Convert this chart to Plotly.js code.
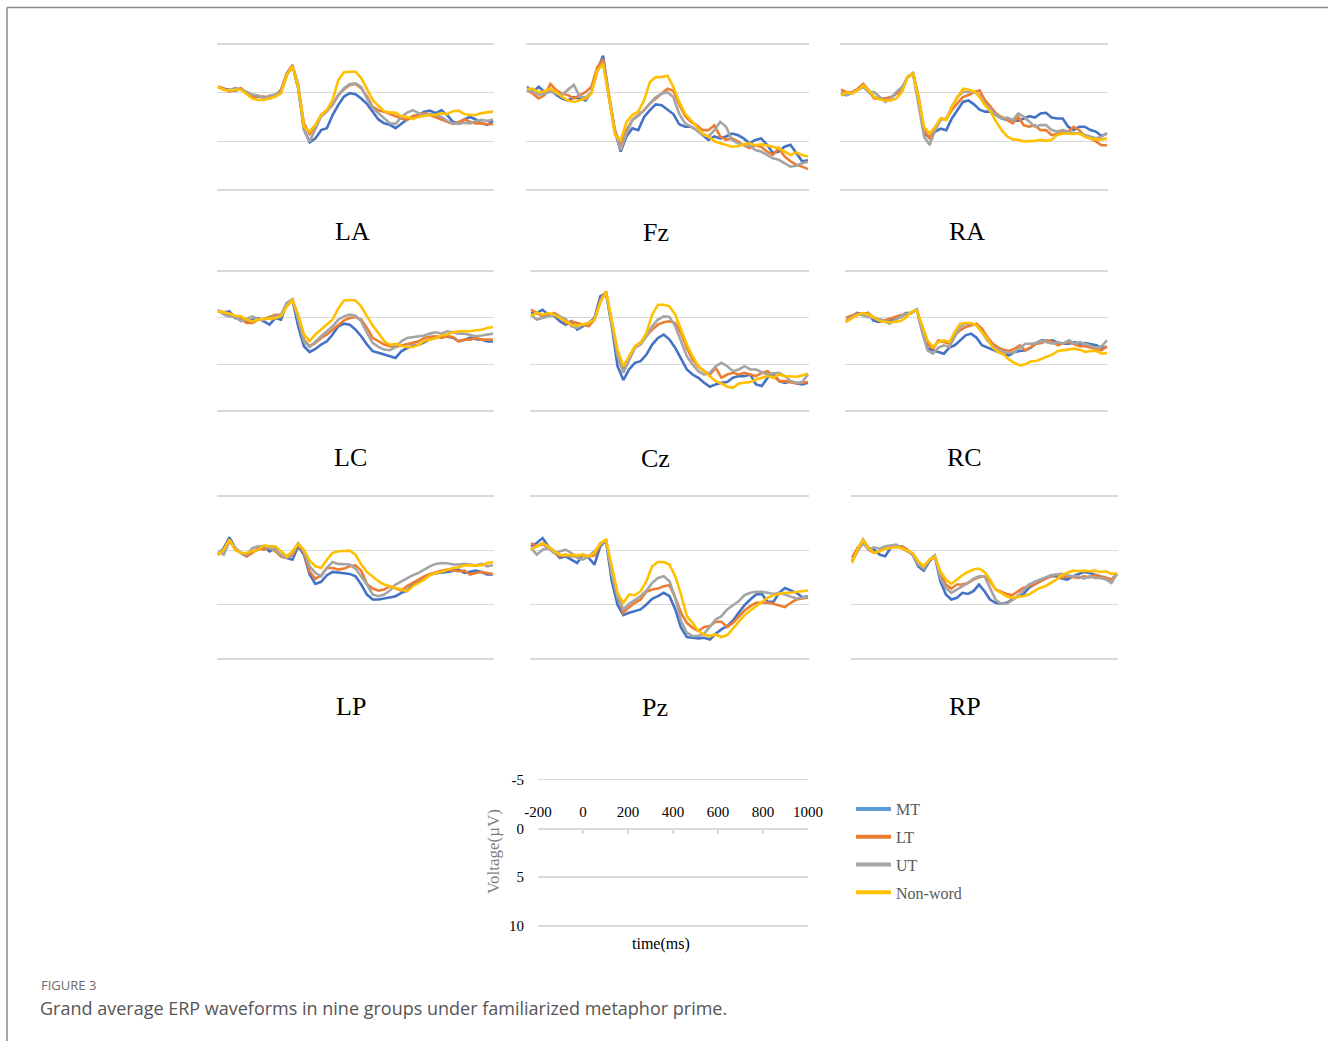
<!DOCTYPE html>
<html><head><meta charset="utf-8">
<script src="https://cdn.plot.ly/plotly-3.0.1.min.js"></script>
<style>html,body{margin:0;padding:0;background:#fff;}#chart{width:1328px;height:1041px;}</style>
</head><body><div id="chart"></div>
<script>
// ---------- DATA ----------
const time = [-200,-175,-150,-125,-100,-75,-50,-25,0,25,50,75,100,125,150,175,200,225,250,275,300,325,350,375,400,425,450,475,500,525,550,575,600,625,650,675,700,725,750,775,800,825,850,875,900,925,950,975,1000];
const seriesNames = ['MT','LT','UT','Non-word'];
const panelNames = ['LA','Fz','RA','LC','Cz','RC','LP','Pz','RP'];
const xTickVals = [-200,0,200,400,600,800,1000];
const yTickVals = [-5,0,5,10];

const LA_MT = [-0.6,-0.4,-0.3,-0.2,-0.4,0.1,0.5,0.4,0.5,0.4,0.4,-0.1,-1.8,-2.7,-0.45,3.8,5.1,4.7,3.85,3.65,2.3,1.25,0.4,0.05,0.15,0.6,1.15,1.95,2.75,3.15,3.3,3.65,3.15,2.75,2.5,2.3,1.95,1.85,2.1,1.8,2.3,3.0,3.15,2.75,2.5,2.75,3.15,3.3,2.9];
const LA_LT = [-0.6,-0.45,-0.1,-0.3,-0.45,0.1,0.4,0.4,0.4,0.6,0.25,-0.3,-2.0,-2.85,-0.6,3.15,4.25,3.5,2.3,1.8,1.25,0.25,-0.35,-0.8,-0.9,-0.45,0.4,1.45,1.8,1.95,2.2,2.45,2.65,2.8,2.4,2.3,2.1,2.3,2.5,2.75,3.0,3.2,3.0,2.75,3.0,3.15,3.15,3.25,3.25];
const LA_UT = [-0.6,-0.3,-0.2,-0.5,-0.3,-0.1,0.2,0.3,0.6,0.3,0.2,-0.1,-1.8,-2.75,-0.9,3.8,5.0,3.8,2.45,1.95,1.25,0.25,-0.45,-0.9,-0.95,-0.6,0.6,1.6,2.1,2.65,3.15,3.2,2.5,2.05,1.8,2.1,2.3,2.2,2.3,2.5,2.9,3.15,3.2,3.1,3.15,2.9,2.8,2.9,2.75];
const LA_NW = [-0.6,-0.3,-0.2,-0.3,-0.3,0.2,0.6,0.75,0.75,0.6,0.4,0.1,-1.8,-2.7,-0.6,3.5,4.0,3.3,2.3,1.8,0.75,-1.3,-2.1,-2.15,-2.15,-1.5,-0.3,0.75,1.35,1.9,2.05,2.05,2.4,2.5,2.7,2.5,2.4,2.3,2.3,2.1,2.2,1.9,1.85,2.2,2.3,2.3,2.1,2.05,1.95];

const Fz_MT = [-0.6,-0.05,-0.6,-0.05,-0.4,0.25,0.6,0.8,0.45,0.6,0.8,-0.05,-2.3,-3.8,0.45,3.85,6.05,4.5,3.65,3.85,2.5,1.8,1.2,1.3,1.75,2.2,3.25,3.5,3.5,3.85,4.35,4.85,4.5,4.7,4.5,4.2,4.35,4.7,5.2,4.85,4.7,5.35,6.2,6.05,5.55,5.35,6.2,7.05,6.95];
const Fz_LT = [-0.25,0.1,0.6,0.25,-0.9,-0.25,0.1,0.25,0.6,0.25,-0.05,-0.6,-2.6,-3.45,0.1,3.85,5.4,3.85,2.8,2.3,1.8,1.1,0.6,0.1,-0.4,-0.2,1.2,2.4,3.0,3.35,3.85,3.85,3.35,4.5,4.85,4.7,5.0,5.4,5.7,5.4,5.55,6.05,6.4,5.7,6.55,7.05,7.4,7.6,7.85];
const Fz_UT = [-0.3,-0.1,0.2,0.1,-0.1,0.1,0.2,-0.3,-0.8,0.4,0.5,0.0,-2.2,-3.1,0.3,4.0,5.9,4.2,2.8,2.4,1.8,1.1,0.45,0.1,-0.05,0.45,2.15,3.15,3.5,3.85,4.35,4.5,3.85,3.0,3.5,4.85,5.2,5.4,5.4,5.9,6.05,6.4,6.75,6.9,7.25,7.6,7.5,7.25,7.1];
const Fz_NW = [-0.4,-0.4,-0.05,-0.15,-0.4,-0.05,0.45,0.8,0.95,0.8,0.6,0.1,-2.3,-2.95,0.45,4.3,4.9,3.0,2.3,1.95,0.8,-1.1,-1.6,-1.6,-1.75,-0.6,0.95,2.15,2.8,3.5,4.2,4.5,5.0,5.2,5.4,5.55,5.5,5.3,5.2,5.4,5.3,5.4,5.55,5.7,6.05,6.4,6.15,6.4,6.55];

const RA_MT = [0.1,0.2,0.0,-0.3,-0.6,-0.1,0.5,0.6,0.6,0.5,0.1,-0.3,-1.6,-2.0,0.6,4.2,4.6,4.0,3.7,3.85,2.65,1.8,0.95,0.8,1.2,1.75,1.95,1.95,2.3,2.65,2.8,2.82,2.89,2.65,2.41,2.55,2.14,2.07,2.55,2.65,2.65,3.5,3.84,3.5,3.5,3.84,4.0,4.46,4.18];
const RA_LT = [-0.3,-0.05,-0.05,-0.4,-0.9,-0.25,0.6,0.6,0.6,0.45,0.1,-0.25,-1.6,-2.0,0.45,3.85,4.7,3.65,2.65,2.75,1.8,1.1,0.45,0.25,-0.05,-0.25,0.8,1.45,2.15,2.5,2.8,3.15,2.5,3.35,3.5,3.35,3.85,3.85,4.35,4.25,4.0,4.0,3.5,3.85,4.5,4.7,5.0,5.4,5.4];
const RA_UT = [0.1,0.27,0.03,-0.24,-0.58,-0.07,-0.07,0.44,0.95,0.61,-0.07,-0.58,-1.6,-1.94,1.12,4.52,5.37,3.84,2.82,2.65,1.46,0.44,-0.07,-0.07,-0.07,0.27,1.12,1.8,2.31,2.65,2.55,2.82,2.14,2.48,2.99,3.5,3.33,3.33,3.84,4.0,3.84,4.0,4.18,4.18,4.35,4.52,4.69,4.52,4.18];
const RA_NW = [0.3,-0.05,0.1,-0.25,-0.75,-0.25,0.45,0.7,0.8,0.8,0.6,-0.05,-1.6,-1.95,0.6,3.5,4.2,3.5,2.65,2.8,1.45,0.45,-0.4,-0.3,-0.15,0.45,1.3,1.95,3.0,3.85,4.5,4.8,4.85,5.0,5.0,4.95,4.85,4.95,4.85,4.35,4.2,4.25,4.25,4.2,4.5,4.7,4.8,4.8,4.7];

const LC_MT = [-0.68,-0.57,-0.68,0.04,0.14,0.39,0.21,0.04,0.39,0.75,0.04,0.21,-1.57,-1.92,0.93,3.06,3.7,3.35,2.88,2.53,1.81,0.93,0.64,0.75,1.28,1.99,2.88,3.59,3.77,3.95,4.13,4.31,3.6,3.25,3.0,2.9,2.65,2.3,2.15,2.0,2.05,2.15,2.55,2.4,2.15,2.3,2.35,2.55,2.55];
const LC_LT = [-0.68,-0.5,-0.32,-0.14,0.14,0.57,0.57,0.21,0.14,-0.07,-0.32,-0.32,-1.21,-1.92,0.04,2.35,3.06,2.7,2.17,1.81,1.28,0.75,0.28,0.04,-0.07,0.21,1.1,2.17,2.53,2.88,3.06,3.13,2.99,2.88,2.7,2.53,2.17,2.06,1.99,2.17,1.99,2.06,2.53,2.35,2.35,2.17,2.35,2.35,2.35];
const LC_UT = [-0.85,-0.32,-0.14,-0.07,0.39,0.14,-0.14,0.14,0.21,0.04,-0.14,-0.32,-1.57,-1.99,0.21,2.53,3.13,2.53,1.99,1.46,0.93,0.21,-0.14,-0.32,-0.21,0.39,1.64,2.7,3.13,3.42,3.49,3.13,2.53,2.17,2.06,1.99,1.92,1.71,1.57,1.71,1.46,1.57,1.71,1.71,1.81,1.99,1.92,1.81,1.71];
const LC_NW = [-0.7,-0.55,-0.45,-0.2,-0.15,0.2,0.4,0.2,0.15,0.15,0.05,-0.15,-1.2,-1.9,-0.3,1.8,2.5,1.8,1.3,0.75,0.2,-1.0,-1.85,-1.9,-1.85,-1.2,-0.15,0.85,1.65,2.5,2.9,2.8,3.0,3.15,3.15,2.9,2.5,2.35,2.2,1.9,1.8,1.55,1.45,1.45,1.45,1.35,1.3,1.1,1.0];

const Cz_MT = [-0.5,-0.5,-0.85,-0.32,-0.21,0.39,0.75,0.39,1.28,0.93,0.57,0.04,-2.28,-2.63,0.93,5.2,6.69,5.55,4.84,4.66,3.95,2.88,2.17,1.81,2.35,3.24,4.48,5.55,6.09,6.44,6.98,7.4,7.15,6.98,6.9,6.44,6.26,6.26,6.09,7.15,7.33,6.44,5.98,6.8,6.98,6.8,7.05,7.15,6.98];
const Cz_LT = [-0.85,-0.5,-0.14,-0.21,-0.5,-0.14,0.57,0.39,0.57,0.75,0.93,0.21,-1.92,-2.81,0.57,3.95,5.55,4.31,3.13,2.63,1.92,1.28,0.75,0.5,0.39,0.57,1.64,3.24,4.48,5.27,5.73,6.09,5.37,6.44,6.09,5.91,6.09,5.91,6.09,6.26,5.91,5.73,6.26,6.8,6.8,6.9,7.05,6.98,6.9];
const Cz_UT = [-0.32,0.21,0.04,-0.14,-0.32,-0.14,0.14,0.93,1.1,0.75,0.57,0.21,-1.74,-2.81,0.75,4.13,5.91,4.48,3.24,2.88,1.99,0.93,0.21,-0.14,-0.07,0.93,2.53,4.13,5.02,5.73,6.09,5.91,5.2,4.84,5.2,5.73,5.55,5.2,5.55,5.55,5.84,6.09,5.98,5.91,6.26,6.8,6.98,6.9,6.09];
const Cz_NW = [-0.14,-0.57,-0.32,-0.5,-0.32,0.04,0.39,0.75,0.85,0.75,0.57,0.21,-1.57,-2.81,0.21,3.42,5.2,4.13,3.06,2.7,1.64,-0.32,-1.39,-1.39,-1.21,-0.32,1.28,2.88,4.13,5.2,5.73,6.26,6.8,7.05,7.4,7.51,7.05,6.98,6.9,6.62,6.44,6.26,6.44,6.09,6.26,6.33,6.33,6.19,5.98];

const RC_MT = [0.46,-0.07,-0.5,-0.36,-0.5,0.29,0.46,0.29,0.36,0.21,-0.07,-0.5,-0.5,-0.86,1.18,3.32,3.5,3.68,3.86,3.21,2.96,2.43,1.89,1.71,2.14,2.96,3.21,3.43,3.68,3.93,4.04,3.68,3.57,3.5,3.21,2.71,2.43,2.5,2.43,2.71,2.79,2.79,2.61,2.79,2.71,2.86,2.96,3.21,3.14];
const RC_LT = [0.0,-0.25,-0.43,-0.36,-0.5,-0.07,0.21,0.29,0.11,-0.07,-0.25,-0.3,-0.5,-0.86,1.0,2.79,3.32,2.43,2.61,2.79,1.89,1.36,1.0,0.82,0.64,1.18,2.07,2.79,3.21,3.43,3.57,3.32,2.96,3.5,3.14,2.79,2.71,2.43,2.61,2.96,2.71,2.61,2.86,3.07,3.07,3.21,3.32,3.5,3.07];
const RC_UT = [0.29,-0.07,-0.36,-0.25,-0.07,0.0,0.21,0.29,0.64,0.29,-0.07,-0.43,-0.5,-0.86,1.54,3.5,3.86,3.21,2.96,3.14,2.07,1.0,0.64,0.64,0.82,1.54,2.43,3.07,3.43,3.68,3.79,3.68,3.21,2.79,2.79,2.71,2.5,2.61,2.79,2.61,2.79,2.43,2.79,2.61,2.79,2.96,3.21,3.07,2.43];
const RC_NW = [0.46,0.11,-0.25,-0.5,-0.36,-0.07,0.29,0.46,0.46,0.46,0.36,0.0,-0.61,-0.79,0.82,2.43,3.14,2.61,2.43,2.61,1.54,0.64,0.57,0.57,0.82,1.54,2.25,3.21,3.68,3.93,4.5,4.86,5.11,5.0,4.68,4.64,4.39,4.21,3.93,3.57,3.5,3.43,3.32,3.43,3.68,3.57,3.57,3.86,3.79];

const LP_MT = [0.4,-0.21,-1.19,-0.21,0.24,0.55,0.09,-0.06,-0.37,0.09,-0.21,0.55,0.7,0.86,-0.37,0.4,2.23,3.09,2.9,2.29,1.99,2.08,2.11,2.17,2.39,3.15,4.07,4.53,4.53,4.43,4.31,4.22,3.91,3.7,3.15,2.84,2.48,2.23,2.11,2.08,1.99,1.87,1.77,2.08,1.99,1.87,1.99,2.23,2.23];
const LP_LT = [0.4,-0.06,-0.98,-0.06,0.24,0.55,0.24,-0.21,-0.06,-0.28,0.09,0.55,0.7,0.46,-0.58,0.24,1.93,2.63,2.29,1.62,1.62,1.77,1.68,1.47,1.38,1.87,3.09,3.52,3.7,3.61,3.3,3.52,3.7,3.3,3.0,2.69,2.39,2.17,1.99,1.87,1.77,1.87,1.93,1.87,2.23,2.08,1.99,2.08,2.17];
const LP_UT = [0.09,0.4,-0.83,-0.21,0.24,0.4,-0.21,-0.37,-0.37,-0.21,-0.06,0.4,0.7,0.24,-0.67,0.09,1.47,2.08,2.39,1.62,1.07,1.25,1.31,1.31,1.68,2.39,3.15,4.07,4.22,4.07,3.7,3.15,2.84,2.6,2.29,2.08,1.77,1.47,1.25,1.16,1.19,1.31,1.31,1.25,1.31,1.38,1.25,1.47,1.38];
const LP_NW = [0.4,-0.06,-0.98,-0.06,0.24,0.24,0.09,-0.06,-0.46,-0.37,-0.37,0.09,0.55,0.09,-0.58,-0.06,0.95,1.47,1.62,0.86,0.24,0.09,0.09,0.03,0.4,1.31,1.99,2.39,2.84,3.15,3.3,3.52,3.61,3.76,3.3,3.0,2.69,2.29,2.08,1.99,1.77,1.62,1.56,1.38,1.38,1.38,1.38,1.16,1.07];

const Pz_MT = [-0.37,-0.67,-1.13,-0.37,0.09,0.7,0.55,0.86,1.16,0.4,0.7,1.31,-0.37,-0.89,2.84,5.0,5.96,5.75,5.6,5.44,4.98,4.46,4.22,3.91,4.22,5.44,7.13,7.98,8.04,8.1,8.04,8.2,7.68,7.28,6.97,6.45,5.75,5.05,4.53,4.07,4.01,4.74,4.74,3.91,3.46,3.7,3.91,4.31,4.22];
const Pz_LT = [-0.67,-0.37,-0.58,-0.21,0.09,0.55,0.4,0.55,0.55,0.46,0.55,0.46,-0.52,-0.98,1.93,4.07,5.75,5.23,4.83,4.53,3.82,3.61,3.52,3.3,3.21,4.37,5.75,6.67,7.13,7.43,7.06,6.97,6.57,6.57,7.06,6.67,6.06,5.54,5.14,4.83,4.83,4.83,4.92,5.05,5.23,4.83,4.53,4.43,4.37];
const Pz_UT = [-0.21,0.4,-0.06,-0.21,0.24,0.09,-0.06,0.24,0.7,0.86,0.55,0.09,-0.52,-0.98,2.23,4.37,5.44,4.92,4.53,4.22,3.7,3.0,2.54,2.39,2.84,4.37,6.51,7.58,7.89,7.89,7.68,6.97,6.36,6.06,5.44,5.05,4.68,4.13,3.91,3.82,3.82,3.91,4.01,3.91,4.07,4.22,4.43,4.37,4.22];
const Pz_NW = [-0.06,-0.37,-0.67,-0.37,0.09,0.4,0.46,0.4,0.46,0.4,0.55,0.24,-0.67,-0.98,1.62,3.91,4.83,4.07,4.13,3.76,2.84,1.47,1.07,1.07,1.31,2.39,4.07,6.06,6.67,7.43,7.74,7.89,7.74,7.98,7.8,7.19,6.51,5.96,5.54,5.14,4.74,4.37,4.13,4.01,3.91,3.91,3.85,3.76,3.7];

const RP_MT = [1.01,-0.06,-0.98,-0.21,-0.06,0.4,0.55,-0.21,-0.37,-0.37,-0.06,0.4,1.47,1.87,1.01,0.55,2.84,4.07,4.53,4.37,3.91,4.01,3.76,3.15,3.76,4.53,4.83,4.92,4.83,4.53,4.22,4.07,3.46,3.15,2.84,2.6,2.39,2.39,2.6,2.69,2.39,2.17,1.99,2.08,2.23,2.39,2.48,2.69,2.17];
const RP_LT = [0.7,-0.21,-0.83,-0.06,0.24,0.09,-0.21,-0.37,-0.37,-0.37,-0.06,0.4,1.16,1.47,0.95,0.55,2.08,3.15,3.52,3.15,3.15,3.0,2.69,2.48,2.39,2.84,3.61,3.82,4.01,4.13,3.76,3.46,3.3,3.15,2.84,2.6,2.39,2.23,2.54,2.39,2.48,2.54,2.39,2.48,2.29,2.39,2.54,2.69,2.17];
const RP_UT = [1.01,0.09,-0.67,-0.06,-0.28,-0.15,-0.37,-0.46,-0.52,-0.21,0.09,0.4,1.31,1.68,0.86,0.46,2.54,3.46,3.91,3.61,3.3,3.0,2.6,2.39,2.39,3.46,4.53,4.92,4.92,4.62,4.22,3.7,3.15,2.91,2.69,2.48,2.29,2.23,2.17,2.29,2.39,2.39,2.6,2.39,2.54,2.54,2.69,3.0,2.17];
const RP_NW = [1.16,-0.06,-0.98,-0.21,0.24,0.09,-0.15,-0.21,-0.28,-0.21,0.03,0.24,1.01,1.47,0.86,0.55,1.93,2.69,3.09,2.69,2.29,1.99,1.77,1.68,1.99,2.69,3.61,3.91,4.22,4.37,4.31,4.22,4.07,3.76,3.46,3.3,3.0,2.69,2.29,2.08,1.87,1.93,1.87,1.93,1.87,1.99,1.93,2.17,2.08];

// ---------- STYLE / GEOMETRY ----------
const W = 1328, H = 1041;
const lineColors = ['#4472C4','#ED7D31','#A5A5A5','#FFC000'];
const legendColors = ['#5B9BD5','#ED7D31','#A5A5A5','#FFC000'];
const gridColor = '#d9d9d9';
const serif = 'Liberation Serif, Times New Roman, serif';
const panelSeries = [
  [LA_MT,LA_LT,LA_UT,LA_NW],[Fz_MT,Fz_LT,Fz_UT,Fz_NW],[RA_MT,RA_LT,RA_UT,RA_NW],
  [LC_MT,LC_LT,LC_UT,LC_NW],[Cz_MT,Cz_LT,Cz_UT,Cz_NW],[RC_MT,RC_LT,RC_UT,RC_NW],
  [LP_MT,LP_LT,LP_UT,LP_NW],[Pz_MT,Pz_LT,Pz_UT,Pz_NW],[RP_MT,RP_LT,RP_UT,RP_NW]
];
// pixel boxes [left, right, top(-5 line), bottom(10 line)]
const panelBoxes = [
  [218,493,44,190],[527,808,44,190],[841,1107,44,190],
  [218,493,271,411],[531,808,271,411],[846,1107,271,411],
  [218,493,496,659],[531,808,496,659],[852,1117,496,659]
];
const labelPos = [[353,231],[656,232],[967,231],[350,457],[655,458],[964,457],[351,706],[655,707],[965,706]];
const refBox = [538,808,779.5,926];

const YPAD = 0.25, XPAD = 6;
function xDomain(b){const k=(b[1]-b[0])/1200;return [(b[0]-XPAD*k)/W,(b[1]+XPAD*k)/W];}
function yDomain(b){const k=(b[3]-b[2])/15;return [1-(b[3]+YPAD*k)/H,1-(b[2]-YPAD*k)/H];}

const traces = [];
const layout = {
  width: W, height: H,
  margin: {l:0,r:0,t:0,b:0},
  paper_bgcolor: '#ffffff', plot_bgcolor: 'rgba(0,0,0,0)',
  showlegend: true,
  legend: {
    x: 851/W, y: 1-792/H, xanchor:'left', yanchor:'top',
    font: {family: serif, size: 16, color:'#595959'},
    bgcolor:'rgba(0,0,0,0)', borderwidth:0, traceorder:'grouped', tracegroupgap: 4,
    itemwidth: 35
  },
  annotations: [], shapes: []
};

panelNames.forEach((name,i)=>{
  const n = i+1;
  const xa = n===1?'x':'x'+n, ya = n===1?'y':'y'+n;
  const b = panelBoxes[i];
  layout[n===1?'xaxis':'xaxis'+n] = {
    domain: xDomain(b), range:[-200-XPAD,1000+XPAD], anchor: ya,
    showgrid:false, zeroline:false, showline:false, showticklabels:false, ticks:'', fixedrange:true
  };
  layout[n===1?'yaxis':'yaxis'+n] = {
    domain: yDomain(b), range:[10+YPAD,-5-YPAD], anchor: xa,
    tickvals: yTickVals, showgrid:true, gridcolor: gridColor, gridwidth:1.6,
    zeroline:false, showline:false, showticklabels:false, ticks:'', fixedrange:true
  };
  panelSeries[i].forEach((ys,s)=>{
    traces.push({
      type:'scatter', mode:'lines', x: time, y: ys, xaxis: xa, yaxis: ya,
      name: seriesNames[s], showlegend:false, hoverinfo:'skip',
      line:{color: lineColors[s], width:2.6}
    });
  });
  layout.annotations.push({
    xref:'paper', yref:'paper', x: labelPos[i][0]/W, y: 1-labelPos[i][1]/H,
    xanchor:'center', yanchor:'middle', showarrow:false, text: name,
    font:{family: serif, size:26, color:'#000'}
  });
});

// reference axes panel (n = 10)
layout.xaxis10 = {
  domain: [refBox[0]/W, refBox[1]/W], range:[-200,1000], anchor:'free',
  position: 1-828.5/H, side:'top', tickvals: xTickVals, ticktext: xTickVals.map(String),
  showline:true, linecolor: gridColor, linewidth:1.6, ticks:'inside', ticklen:4, tickcolor: gridColor,
  tickwidth:1.2, showgrid:false, zeroline:false, ticklabelstandoff: 6,
  tickfont:{family: serif, size:15, color:'#000'}, fixedrange:true
};
layout.yaxis10 = {
  domain: yDomain(refBox), range:[10+YPAD,-5-YPAD], anchor:'x10',
  tickvals: yTickVals, ticktext: yTickVals.map(String), showgrid:true, gridcolor: gridColor, gridwidth:1.6,
  zeroline:false, showline:false, ticks:'', ticklabelstandoff: 13,
  tickfont:{family: serif, size:15, color:'#000'}, fixedrange:true
};
// legend entries (no points of their own; they only carry the legend swatches)
seriesNames.forEach((nm,s)=>{
  traces.push({
    type:'scatter', mode:'lines', x: [null], y: [null], xaxis:'x10', yaxis:'y10',
    name: nm, legendgroup: nm, showlegend:true, hoverinfo:'skip',
    line:{color: legendColors[s], width:4}
  });
});
layout.annotations.push({
  xref:'paper', yref:'paper', x: 493/W, y: 1-852/H, xanchor:'center', yanchor:'middle',
  showarrow:false, textangle:-90, text:'Voltage(\u00B5V)', font:{family: serif, size:17, color:'#7f7f7f'}
});
layout.annotations.push({
  xref:'paper', yref:'paper', x: 661/W, y: 1-944/H, xanchor:'center', yanchor:'middle',
  showarrow:false, text:'time(ms)', font:{family: serif, size:16, color:'#000'}
});
// caption
layout.annotations.push({
  xref:'paper', yref:'paper', x: 39/W, y: 1-985/H, xanchor:'left', yanchor:'middle',
  showarrow:false, text:'FIGURE 3', font:{family:'Open Sans, sans-serif', size:13, color:'#6b6b6b'}
});
layout.annotations.push({
  xref:'paper', yref:'paper', x: 38/W, y: 1-1008/H, xanchor:'left', yanchor:'middle',
  showarrow:false, text:'Grand average ERP waveforms in nine groups under familiarized metaphor prime.',
  font:{family:'Open Sans, sans-serif', size:18, color:'#555555'}
});
// frame
layout.shapes.push({type:'line', xref:'paper', yref:'paper', x0:7/W, x1:1, y0:1-7.5/H, y1:1-7.5/H, line:{color:'#8a8a8a', width:1.5}});
layout.shapes.push({type:'line', xref:'paper', yref:'paper', x0:7/W, x1:7/W, y0:1-7.5/H, y1:0, line:{color:'#8a8a8a', width:1.5}});

Plotly.newPlot('chart', traces, layout, {displayModeBar:false, staticPlot:true});
</script>
</body></html>
